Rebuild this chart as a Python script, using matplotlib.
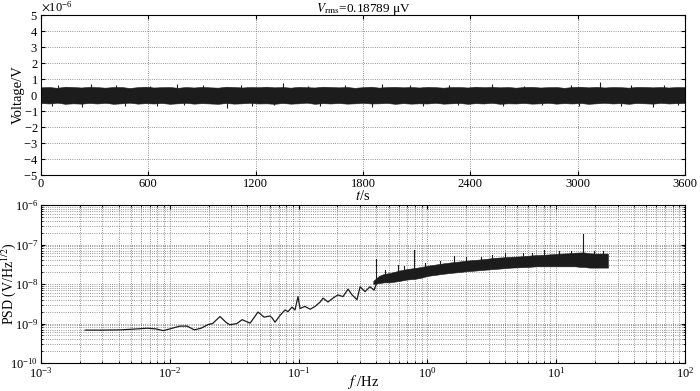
import numpy as np
import matplotlib
matplotlib.use("Agg")
import matplotlib.pyplot as plt
from matplotlib.ticker import ScalarFormatter, LogLocator, NullFormatter

plt.rcParams["font.family"] = ["Liberation Serif", "DejaVu Serif"]
plt.rcParams["mathtext.fontset"] = "stix"
plt.rcParams["axes.unicode_minus"] = False
plt.rcParams["font.size"] = 9

# ---- top panel: noise band envelope (uV), sampled every 45 s ----
t_env = np.arange(0, 3601, 45)
v_upper = [0.48, 0.50, 0.45, 0.52, 0.50, 0.47, 0.51, 0.49, 0.46, 0.50,
           0.50, 0.44, 0.49, 0.52, 0.47, 0.49, 0.50, 0.45, 0.50, 0.47,
           0.51, 0.48, 0.46, 0.52, 0.50, 0.47, 0.50, 0.49, 0.52, 0.48,
           0.50, 0.46, 0.51, 0.49, 0.47, 0.52, 0.50, 0.48, 0.50, 0.45,
           0.49, 0.52, 0.46, 0.50, 0.51, 0.48, 0.50, 0.47, 0.51, 0.49,
           0.46, 0.50, 0.50, 0.47, 0.52, 0.49, 0.51, 0.48, 0.50, 0.46,
           0.50, 0.51, 0.47, 0.49, 0.50, 0.45, 0.50, 0.52, 0.48, 0.51,
           0.47, 0.50, 0.49, 0.46, 0.51, 0.50, 0.48, 0.50, 0.47, 0.50, 0.49]
v_lower = [-0.50, -0.53, -0.48, -0.55, -0.52, -0.54, -0.50, -0.53, -0.49, -0.55,
           -0.52, -0.48, -0.54, -0.51, -0.53, -0.50, -0.55, -0.52, -0.49, -0.54,
           -0.51, -0.53, -0.55, -0.50, -0.54, -0.52, -0.49, -0.53, -0.52, -0.55,
           -0.50, -0.54, -0.52, -0.48, -0.55, -0.51, -0.53, -0.50, -0.54, -0.52,
           -0.49, -0.53, -0.52, -0.50, -0.55, -0.51, -0.54, -0.52, -0.53, -0.49,
           -0.54, -0.52, -0.50, -0.55, -0.51, -0.53, -0.49, -0.55, -0.52, -0.53,
           -0.50, -0.54, -0.52, -0.49, -0.54, -0.51, -0.53, -0.50, -0.55, -0.52,
           -0.49, -0.53, -0.51, -0.55, -0.50, -0.52, -0.54, -0.49, -0.53, -0.51, -0.50]
# isolated excursions of the signal (s, uV)
spk_t = [95, 280, 420, 610, 760, 905, 1120, 1350, 1490, 1700, 1905, 2060, 2280,
         2520, 2700, 2960, 3125, 3300, 3480,
         60, 230, 470, 650, 800, 1040, 1180, 1300, 1560, 1850, 2135, 2330, 2580,
         2800, 3010, 3240, 3420, 3560]
spk_v = [0.62, 0.70, 0.60, 0.58, 0.66, 0.62, 0.60, 0.72, 0.58, 0.64, 0.70, 0.60, 0.62,
         0.66, 0.58, 0.63, 0.83, 0.60, 0.62,
         -0.68, -0.72, -0.66, -0.70, -0.62, -0.82, -0.70, -0.64, -0.68, -0.72, -0.66,
         -0.62, -0.70, -0.64, -0.68, -0.66, -0.72, -0.64]
v_rms_text = "0.18789"

# ---- bottom panel: PSD (V/Hz^0.5) ----
f_line = [0.0022, 0.0029, 0.0041, 0.0052, 0.0067, 0.0078, 0.0089, 0.0100, 0.0120,
          0.0136, 0.0155, 0.0175, 0.0198, 0.0215, 0.0245, 0.0275, 0.0293, 0.0332,
          0.0364, 0.0420, 0.0484, 0.0540, 0.0600, 0.0621, 0.0656, 0.0717, 0.0784,
          0.0827, 0.0888, 0.0937, 0.0989, 0.1025, 0.112, 0.123, 0.134, 0.147,
          0.155, 0.169, 0.185, 0.202, 0.221, 0.242, 0.260, 0.284, 0.300, 0.328,
          0.358, 0.385, 0.41]
psd_line = [6.8e-10, 6.8e-10, 6.9e-10, 7.2e-10, 7.6e-10, 7.3e-10, 6.6e-10, 7.3e-10, 8.6e-10,
            8.6e-10, 6.9e-10, 7.6e-10, 9.4e-10, 1.0e-9, 1.5e-9, 1.05e-9, 9.3e-10, 1.0e-9,
            1.25e-9, 1.02e-9, 1.95e-9, 1.45e-9, 1.55e-9, 1.4e-9, 1.08e-9, 1.6e-9, 2.2e-9,
            2.0e-9, 2.6e-9, 2.2e-9, 4.8e-9, 2.4e-9, 2.7e-9, 2.3e-9, 2.7e-9, 3.5e-9,
            4.4e-9, 3.5e-9, 4.4e-9, 5.3e-9, 4.8e-9, 7.4e-9, 5.3e-9, 4.0e-9, 8.5e-9, 6.4e-9,
            8.5e-9, 7.0e-9, 1.2e-8]

f_band = [0.38, 0.42, 0.46, 0.51, 0.56, 0.61, 0.70, 0.80, 0.90, 1.0, 1.15, 1.3, 1.5,
          1.75, 2.0, 2.4, 2.8, 3.3, 3.9, 4.5, 5.2, 6.0, 7.0, 8.0, 9.5, 11, 12.5, 14,
          15.5, 16.5, 18, 20, 22, 25.2]
psd_band_hi = [1.2e-8, 1.6e-8, 1.8e-8, 1.9e-8, 2.05e-8, 2.2e-8, 2.4e-8, 2.55e-8, 2.7e-8,
               2.9e-8, 3.1e-8, 3.3e-8, 3.5e-8, 3.7e-8, 3.9e-8, 4.1e-8, 4.3e-8, 4.6e-8,
               4.75e-8, 4.9e-8, 5.0e-8, 5.2e-8, 5.4e-8, 5.5e-8, 5.7e-8, 5.9e-8, 6.0e-8,
               6.2e-8, 6.3e-8, 6.3e-8, 6.0e-8, 5.9e-8, 5.9e-8, 5.9e-8]
psd_band_lo = [1.0e-8, 1.05e-8, 1.1e-8, 1.1e-8, 1.15e-8, 1.2e-8, 1.3e-8, 1.35e-8, 1.45e-8,
               1.6e-8, 1.7e-8, 1.8e-8, 1.9e-8, 2.0e-8, 2.1e-8, 2.2e-8, 2.3e-8, 2.4e-8,
               2.5e-8, 2.6e-8, 2.65e-8, 2.7e-8, 2.8e-8, 2.8e-8, 2.8e-8, 2.8e-8, 2.8e-8,
               2.8e-8, 2.7e-8, 2.7e-8, 2.6e-8, 2.6e-8, 2.6e-8, 2.6e-8]

spike_f = [0.40, 0.59, 0.79, 1.6, 2.0, 4.0, 8.0, 16.1,
           0.47, 0.66, 0.95, 1.25, 2.6, 3.2, 5.5, 6.5, 10.5, 13.0, 19.5, 23.0]
spike_base = [1.2e-8, 1.6e-8, 1.8e-8, 2.6e-8, 3.0e-8, 3.6e-8, 4.0e-8, 4.0e-8,
              1.4e-8, 1.7e-8, 2.0e-8, 2.3e-8, 3.2e-8, 3.4e-8, 3.8e-8, 4.0e-8, 4.2e-8,
              4.3e-8, 4.0e-8, 4.0e-8]
spike_top = [4.3e-8, 3.0e-8, 7.3e-8, 5.1e-8, 4.8e-8, 6.1e-8, 7.3e-8, 1.85e-7,
             2.3e-8, 2.8e-8, 3.4e-8, 3.8e-8, 4.9e-8, 5.3e-8, 6.0e-8, 6.2e-8, 6.8e-8,
             7.0e-8, 7.0e-8, 6.8e-8]

ink = "#1c1c1c"
grid_kw = dict(color="0.45", linestyle=":", linewidth=0.6)
label_size = 10.5

fig = plt.figure(figsize=(7.0, 3.91), dpi=100)

# ---- top: time series ----
ax1 = fig.add_axes([0.0586, 0.5524, 0.9200, 0.4092])
ax1.fill_between(t_env, np.array(v_lower) * 1e-6, np.array(v_upper) * 1e-6,
                 color=ink, linewidth=0.4, edgecolor=ink, zorder=2)
ax1.vlines(spk_t, 0, np.array(spk_v) * 1e-6, color=ink, linewidth=0.8, zorder=2)
ax1.set_xlim(0, 3600)
ax1.set_ylim(-5e-6, 5e-6)
ax1.set_xticks(np.arange(0, 3601, 600))
ax1.set_yticks(np.arange(-5, 6) * 1e-6)
fmt = ScalarFormatter(useMathText=True)
fmt.set_powerlimits((0, 0))
ax1.yaxis.set_major_formatter(fmt)
ax1.grid(True, **grid_kw)
ax1.tick_params(direction="in", top=True, right=True, length=3, pad=2)
ax1.set_xlabel(r"$t$/s", fontsize=label_size, labelpad=-0.5)
ax1.set_ylabel("Voltage/V", fontsize=label_size)
ax1.yaxis.set_label_coords(-0.025, 0.5)
ax1.set_title(r"$V_{\rm rms}$=" + v_rms_text + " μV", fontsize=9.5, pad=2)

# ---- bottom: PSD ----
ax2 = fig.add_axes([0.0586, 0.0716, 0.9200, 0.4041])
ax2.fill_between(f_band, psd_band_lo, psd_band_hi, color=ink, linewidth=0.4,
                 edgecolor=ink, zorder=2)
ax2.plot(f_line, psd_line, color=ink, linewidth=0.9, zorder=3)
for f, b, tp in zip(spike_f, spike_base, spike_top):
    ax2.plot([f, f], [b, tp], color=ink, linewidth=0.8, zorder=3)
ax2.set_xscale("log")
ax2.set_yscale("log")
ax2.set_xlim(1e-3, 1e2)
ax2.set_ylim(1e-10, 1e-6)
ax2.xaxis.set_major_locator(LogLocator(base=10, numticks=10))
ax2.xaxis.set_minor_locator(LogLocator(base=10, subs=np.arange(2, 10), numticks=20))
ax2.yaxis.set_major_locator(LogLocator(base=10, numticks=10))
ax2.yaxis.set_minor_locator(LogLocator(base=10, subs=np.arange(2, 10), numticks=20))
ax2.xaxis.set_minor_formatter(NullFormatter())
ax2.yaxis.set_minor_formatter(NullFormatter())
ax2.grid(True, which="both", **grid_kw)
ax2.tick_params(which="both", direction="in", top=True, right=True)
ax2.tick_params(which="major", length=3, pad=2)
ax2.tick_params(which="minor", length=1.5)
ax2.set_xlabel(r"$f$ /Hz", fontsize=label_size, labelpad=-5)
ax2.set_ylabel(r"PSD (V/Hz$^{1/2}$)", fontsize=10)
ax2.yaxis.set_label_coords(-0.035, 0.5)

for ax in (ax1, ax2):
    for s in ax.spines.values():
        s.set_linewidth(0.8)

fig.savefig("out.png", dpi=100)
